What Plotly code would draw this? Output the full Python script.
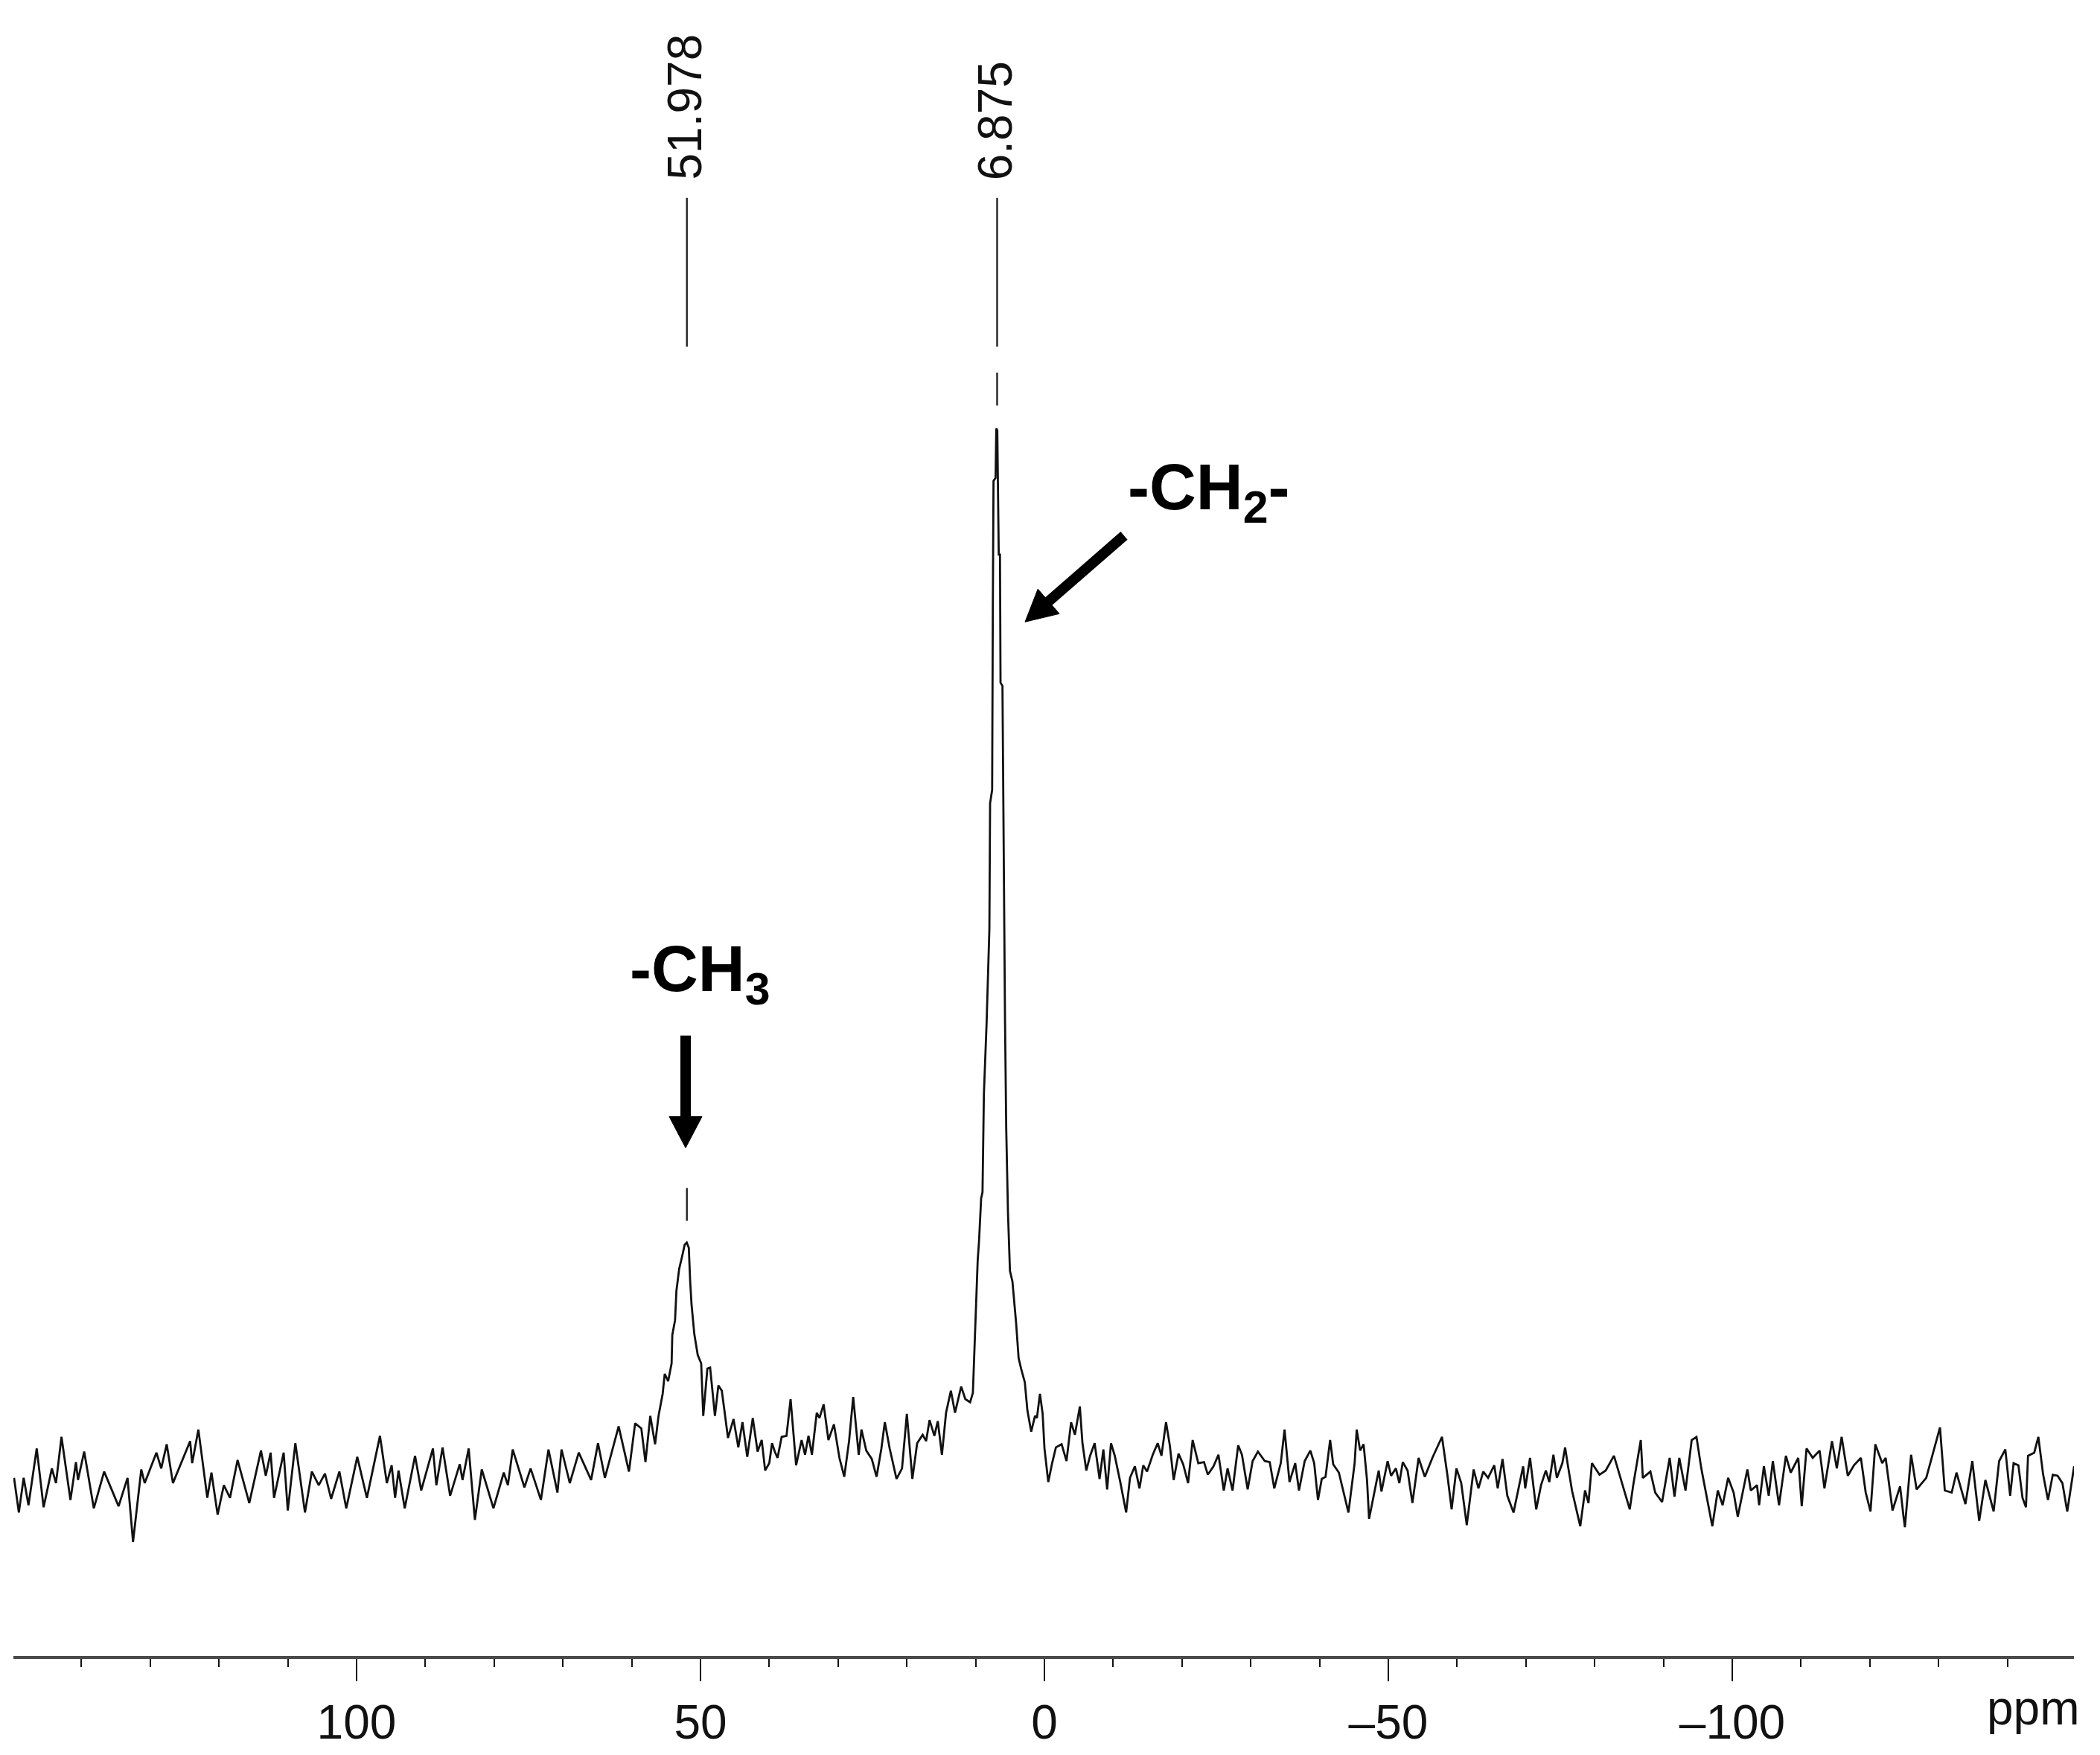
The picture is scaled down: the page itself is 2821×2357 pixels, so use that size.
import math
import plotly.graph_objects as go

# 13C solid-state NMR spectrum.
# ppm, intensity (CH2 peak top = 100)
BASELINE_LEFT = [
    (149.8, 0.1), (149.1, -3.2), (148.4, 0.1), (147.7, -2.5), (146.5, 2.9), (145.5, -2.7),
    (144.3, 1.0), (143.7, -0.4), (142.9, 4.0), (141.6, -2.0), (140.8, 1.6), (140.5, -0.1),
    (139.6, 2.6), (138.2, -2.8), (136.7, 0.7), (134.6, -2.6), (133.3, 0.1), (132.5, -6.0),
    (131.3, 0.9), (130.8, -0.4), (129.1, 2.5), (128.4, 1.0), (127.6, 3.3), (126.7, -0.4),
    (124.2, 3.6), (123.9, 1.5), (123.0, 4.7), (121.7, -1.8), (121.1, 0.6), (120.2, -3.4),
    (119.3, -0.6), (118.4, -1.8), (117.3, 1.8), (115.6, -2.3), (113.9, 2.7), (113.2, 0.3),
    (112.5, 2.5), (112.0, -1.8), (110.6, 2.5), (110.0, -3.0), (108.9, 3.4), (107.5, -3.2),
    (106.5, 0.7), (105.5, -0.6), (104.6, 0.5), (103.7, -1.9), (102.5, 0.7), (101.5, -2.8),
    (99.9, 2.1), (98.5, -1.8), (96.6, 4.1), (95.6, -0.4), (94.9, 1.3), (94.4, -1.8),
    (93.9, 0.8), (93.0, -2.8), (91.5, 2.2), (90.6, -1.1), (88.9, 2.9), (88.4, -0.6),
    (87.5, 3.0), (86.4, -1.6), (85.0, 1.4), (84.6, -0.1), (83.7, 2.9), (82.8, -3.9),
    (81.8, 0.9), (80.1, -2.8), (78.6, 0.6), (78.0, -0.6), (77.3, 2.8), (75.6, -0.8),
    (74.7, 1.0), (73.2, -2.0), (72.1, 2.8), (70.8, -1.3), (70.2, 2.8), (69.0, -0.4),
    (67.7, 2.5), (65.9, -0.1), (64.9, 3.4), (63.9, 0.1), (61.9, 5.0), (60.4, 0.7),
    (59.5, 5.3), (58.6, 4.8), (58.0, 1.6), (57.3, 6.0), (56.6, 3.3),
]

CH3_PEAK = [
    (56.1, 6.0), (55.5, 8.1), (55.2, 10.0), (54.7, 9.3), (54.2, 11.0), (54.1, 13.7),
    (53.7, 15.1), (53.5, 17.9), (53.1, 20.0), (52.7, 21.1), (52.3, 22.3), (52.0, 22.5),
    (51.7, 22.0), (51.5, 18.8), (51.3, 16.6), (50.9, 13.8), (50.4, 11.8), (49.9, 11.0),
    (49.6, 6.0), (49.0, 10.5), (48.6, 10.6), (47.9, 6.0), (47.4, 8.9), (46.9, 8.4),
    (46.0, 3.9), (45.2, 5.7), (44.5, 3.0), (43.9, 5.4),
]

MIDDLE = [
    (43.2, 2.1), (42.4, 5.8), (41.7, 2.6), (41.1, 3.7), (40.6, 0.8), (40.0, 1.5),
    (39.6, 3.4), (39.2, 2.6), (38.8, 2.0), (38.2, 4.0), (37.5, 4.1), (36.9, 7.6),
    (36.1, 1.3), (35.3, 3.7), (34.8, 2.3), (34.3, 4.1), (33.8, 2.3), (33.1, 6.3),
    (32.7, 5.8), (32.1, 7.1), (31.4, 3.7), (30.6, 5.2), (29.8, 2.0), (29.1, 0.2),
    (28.4, 3.6), (27.8, 7.8), (27.0, 2.3), (26.6, 4.7), (25.9, 2.7), (25.1, 1.9),
    (24.4, 0.2), (23.7, 2.9), (23.2, 5.4), (22.5, 2.9), (21.5, 0.0), (20.7, 1.0),
    (20.0, 6.2), (19.2, 0.0), (18.5, 3.4), (17.7, 4.2), (17.2, 3.6), (16.7, 5.6),
    (16.0, 4.1), (15.5, 5.5), (14.9, 2.3), (14.3, 6.3), (13.6, 8.4), (13.0, 6.3),
    (12.1, 8.8), (11.5, 7.6), (10.8, 7.3),
]

CH2_PEAK = [
    (10.4, 8.2), (10.2, 11.5), (9.9, 17.5), (9.7, 20.8), (9.5, 22.7), (9.2, 26.7),
    (9.0, 27.3), (8.8, 36.6), (8.4, 43.5), (8.0, 52.4), (7.9, 64.3), (7.6, 65.6),
    (7.5, 82.8), (7.4, 95.0), (7.1, 95.3), (7.0, 100.0), (6.85, 99.8), (6.74, 95.3),
    (6.64, 88.0), (6.46, 88.0), (6.38, 75.8), (6.1, 75.5), (5.91, 55.7), (5.73, 43.8),
    (5.55, 33.3), (5.3, 25.4), (5.01, 19.8), (4.65, 18.8), (4.11, 14.8), (3.75, 11.5),
    (3.39, 10.5), (2.85, 9.2),
]

BASELINE_RIGHT = [
    (2.47, 6.5), (1.92, 4.5), (1.37, 6.0), (1.09, 5.8), (0.65, 8.1), (0.26, 6.2),
    (-0.01, 2.9), (-0.56, -0.3), (-1.12, 1.5), (-1.67, 3.0), (-2.5, 3.3), (-3.21, 1.7),
    (-3.88, 5.4), (-4.43, 4.2), (-5.15, 6.9), (-5.53, 3.4), (-6.09, 0.8), (-6.64, 2.2),
    (-7.3, 3.4), (-8.02, 0.0), (-8.57, 2.8), (-9.12, -1.0), (-9.68, 3.4), (-10.23, 2.2),
    (-11.06, -0.4), (-11.88, -3.2), (-12.44, 0.1), (-13.15, 1.2), (-13.82, -0.9), (-14.37, 1.3),
    (-14.92, 0.7), (-15.75, 2.3), (-16.47, 3.4), (-17.02, 2.2), (-17.68, 5.4), (-18.23, 3.2),
    (-18.79, -0.1), (-19.5, 2.4), (-20.17, 1.4), (-20.89, -0.4), (-21.55, 3.7), (-22.37, 1.5),
    (-23.2, 1.6), (-23.76, 0.4), (-24.58, 1.2), (-25.3, 2.3), (-26.08, -1.1), (-26.63, 1.0),
    (-27.35, -1.1), (-28.17, 3.2), (-28.72, 2.3), (-29.55, -1.0), (-30.27, 1.7), (-31.04, 2.6),
    (-32.04, 1.7), (-32.76, 1.6), (-33.42, -0.9), (-34.36, 1.5), (-34.91, 4.7), (-35.63, -0.3),
    (-36.46, 1.5), (-37.01, -1.1), (-37.84, 1.7), (-38.66, 2.7), (-39.22, 1.5), (-39.77, -2.0),
    (-40.32, 0.0), (-40.87, 0.2), (-41.54, 3.7), (-41.98, 1.4), (-42.81, 0.6),
    (-44.2, -3.2), (-45.1, 1.5), (-45.4, 4.7), (-45.9, 2.7), (-46.4, 3.3), (-46.9, -0.1),
    (-47.2, -3.8), (-48.6, 0.8), (-49.0, -1.2), (-49.9, 1.7), (-50.4, 0.3), (-51.1, 1.0),
    (-51.6, -0.4), (-52.1, 1.6), (-52.8, 0.8), (-53.5, -2.3), (-54.4, 2.0), (-55.3, 0.2),
    (-56.4, 2.0), (-57.8, 4.0), (-58.6, 0.3), (-59.2, -2.9), (-59.9, 1.0), (-60.6, -0.4),
    (-61.4, -4.4), (-62.4, 0.9), (-63.1, -0.9), (-63.8, 0.7), (-64.5, 0.1), (-65.4, 1.3),
    (-65.9, -0.9), (-66.6, 1.9), (-67.3, -1.6), (-68.2, -3.2), (-69.6, 1.2), (-69.9, -0.9),
    (-70.6, 2.0), (-71.5, -2.9), (-72.2, -0.6), (-72.9, 0.8), (-73.4, -0.3), (-74.0, 2.3),
    (-74.5, 0.1), (-75.3, 1.5), (-75.7, 3.0), (-76.1, 1.3), (-76.7, -1.1), (-77.9, -4.5),
    (-78.6, -1.1), (-79.1, -2.3), (-79.6, 1.5), (-80.7, 0.4), (-81.6, 0.8), (-82.8, 2.2),
    (-83.8, -0.1), (-85.1, -2.9), (-85.6, -0.6), (-86.7, 3.7), (-87.0, 0.1), (-88.1, 0.7),
    (-88.8, -1.3), (-89.8, -2.2), (-90.9, 2.0), (-91.6, -1.7), (-92.3, 2.0), (-93.2, -1.1),
    (-94.1, 3.7), (-94.8, 4.0), (-95.5, 1.0), (-97.1, -4.5), (-97.9, -1.1), (-98.6, -2.5),
    (-99.4, 0.1), (-100.2, -1.3), (-100.8, -3.6), (-102.2, 0.9), (-102.7, -1.1), (-103.6, -0.6),
    (-103.9, -2.5), (-104.6, 1.2), (-105.3, -1.6), (-105.9, 1.7), (-106.8, -2.5), (-107.8, 2.2),
    (-108.5, 0.6), (-109.6, 2.0), (-110.1, -2.6), (-110.8, 2.9), (-111.7, 2.0), (-112.7, 2.7),
    (-113.4, -0.9), (-114.5, 3.6), (-115.2, 1.0), (-115.9, 4.0), (-116.8, 0.3), (-117.7, 1.3),
    (-118.7, 2.0), (-119.4, -1.3), (-120.1, -3.1), (-120.8, 3.3), (-121.8, 1.5), (-122.3, 2.0),
    (-123.3, -3.0), (-124.4, -0.7), (-124.9, -3.6), (-125.1, -4.6), (-126.0, 2.3), (-126.8, -1.0),
    (-128.2, 0.1), (-129.3, 2.7), (-130.2, 4.9), (-130.9, -1.1), (-131.9, -1.3), (-132.6, 0.6),
    (-133.9, -2.4), (-134.9, 1.7), (-135.9, -4.0), (-136.8, -0.1), (-138.0, -3.1), (-138.8, 1.7),
    (-139.7, 2.8), (-140.4, -1.6), (-140.9, 1.5), (-141.6, 1.3), (-142.2, -1.8), (-142.7, -2.7),
    (-143.0, 2.2), (-143.9, 2.5), (-144.5, 4.0), (-145.2, 0.4), (-145.9, -2.0), (-146.6, 0.4),
    (-147.3, 0.3), (-148.0, -0.4), (-148.7, -3.1), (-149.7, 1.2),
]

PEAK_PPM = [51.978, 6.875]
PEAK_LABELS = ["51.978", "6.875"]
PEAK_TOPS = [22.5, 100.0]

GROUP_LABELS = ["<b>-CH<sub>3</sub></b>", "<b>-CH<sub>2</sub>-</b>"]

TICK_VALS = [100, 50, 0, -50, -100]
TICK_TEXT = ["100", "50", "0", "\u201350", "\u2013100"]
X_UNIT = "ppm"

FONT = "Liberation Sans, Arial, sans-serif"

# page geometry (page pixels); the page body has an 8 px margin
PAGE_W, PAGE_H = 2821, 2357
BODY = 8
W, H = PAGE_W - 2 * BODY, PAGE_H - 2 * BODY
PLOT_LEFT, PLOT_RIGHT = 18, 2786
AXIS_PX = 2226
ZERO_PPM_PX = 1403
PX_PER_PPM = 9.24
BASE_PX = 1988
PX_PER_UNIT = 14.12


def x_at(px):
    return (ZERO_PPM_PX - px) / PX_PER_PPM


def y_at(py):
    return (BASE_PX - py) / PX_PER_UNIT


def add_arrow(fig, tail, tip, width=14, head_len=42, head_w=44):
    # thick arrow drawn in page pixels: shaft line + filled head
    dx, dy = tip[0] - tail[0], tip[1] - tail[1]
    d = math.hypot(dx, dy)
    ux, uy = dx / d, dy / d
    bx, by = tip[0] - head_len * ux, tip[1] - head_len * uy
    nx, ny = -uy, ux
    fig.add_shape(type="line", xref="x", yref="y",
                  x0=x_at(tail[0]), y0=y_at(tail[1]),
                  x1=x_at(bx + 4 * ux), y1=y_at(by + 4 * uy),
                  line=dict(color="#000000", width=width))
    pts = [(bx + head_w / 2 * nx, by + head_w / 2 * ny),
           (bx - head_w / 2 * nx, by - head_w / 2 * ny), tip]
    path = "M " + " L ".join(f"{x_at(px):.4f},{y_at(py):.4f}" for px, py in pts) + " Z"
    fig.add_shape(type="path", xref="x", yref="y", path=path,
                  fillcolor="#000000", line=dict(color="#000000", width=1))


spectrum = BASELINE_LEFT + CH3_PEAK + MIDDLE + CH2_PEAK + BASELINE_RIGHT
ppm = [p for p, _ in spectrum]
intensity = [v for _, v in spectrum]

fig = go.Figure()
fig.add_trace(go.Scatter(
    x=ppm, y=intensity, mode="lines",
    line=dict(color="#111111", width=2.8),
    hoverinfo="skip", showlegend=False,
))

# peak-pick markers: solid stub under the label, dashed piece down to the peak top
dash_start = [1597, 501]
for pos, top, label, d0 in zip(PEAK_PPM, PEAK_TOPS, PEAK_LABELS, dash_start):
    fig.add_shape(type="line", xref="x", yref="y", x0=pos, x1=pos,
                  y0=y_at(266), y1=y_at(466),
                  line=dict(color="#222222", width=2.4))
    fig.add_shape(type="line", xref="x", yref="y", x0=pos, x1=pos,
                  y0=y_at(d0), y1=top,
                  line=dict(color="#222222", width=2.4, dash="44px,34px"))
    fig.add_annotation(x=pos, y=y_at(244), xref="x", yref="y", text=label,
                       textangle=-90, showarrow=False, xanchor="center", yanchor="bottom",
                       xshift=-3, font=dict(family=FONT, size=64, color="#111111"))

# group labels with arrows
fig.add_annotation(x=x_at(940), y=y_at(1308), xref="x", yref="y", text=GROUP_LABELS[0],
                   showarrow=False, font=dict(family=FONT, size=87, color="#000000"))
add_arrow(fig, (921, 1392), (921, 1543))
fig.add_annotation(x=x_at(1624), y=y_at(661), xref="x", yref="y", text=GROUP_LABELS[1],
                   showarrow=False, font=dict(family=FONT, size=87, color="#000000"))
add_arrow(fig, (1510, 720), (1377, 836))

# axis unit at the right end of the scale
fig.add_annotation(x=1, y=0, xref="paper", yref="paper", text=X_UNIT, showarrow=False,
                   xanchor="right", yanchor="top", xshift=10, yshift=-32,
                   font=dict(family=FONT, size=64, color="#111111"))

fig.update_xaxes(
    range=[x_at(PLOT_LEFT), x_at(PLOT_RIGHT)],
    showline=True, linecolor="#4a4a4a", linewidth=4,
    ticks="outside", ticklen=30, tickwidth=2, tickcolor="#111111",
    tickmode="array", tickvals=TICK_VALS, ticktext=TICK_TEXT,
    tickfont=dict(family=FONT, size=64, color="#111111"),
    showgrid=False, zeroline=False,
    minor=dict(ticks="outside", ticklen=11, tickwidth=2, tickcolor="#111111",
               tickmode="linear", tick0=0, dtick=10, showgrid=False),
)
fig.update_yaxes(visible=False, range=[y_at(AXIS_PX), y_at(BODY)])

fig.update_layout(
    width=W, height=H,
    margin=dict(l=PLOT_LEFT - BODY, r=W - (PLOT_RIGHT - BODY), t=0,
                b=H - (AXIS_PX - BODY)),
    paper_bgcolor="white", plot_bgcolor="white",
    showlegend=False,
)

fig.write_html("out.html")
